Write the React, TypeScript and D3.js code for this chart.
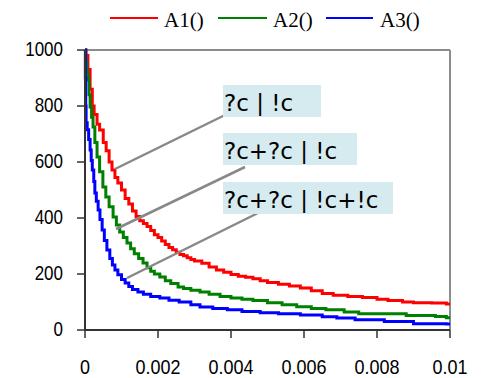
import React from "react";
import * as d3 from "d3";

const seriesNames = ["A1()", "A2()", "A3()"];
const seriesColors = ["#ff0000", "#008000", "#0000ff"];

const a1T = [0, 0.00003, 0.00008, 0.00014, 0.0002, 0.00025, 0.00033, 0.0004, 0.0005, 0.00058, 0.00066, 0.00074, 0.00082, 0.0009, 0.001, 0.0011, 0.0012, 0.0013, 0.0014, 0.0015, 0.0016, 0.0017, 0.0018, 0.0019, 0.002, 0.0021, 0.0022, 0.0023, 0.0024, 0.0025, 0.0026, 0.0027, 0.0028, 0.0029, 0.003, 0.0032, 0.0034, 0.0036, 0.0038, 0.004, 0.0042, 0.0044, 0.0046, 0.0048, 0.005, 0.0053, 0.0056, 0.0059, 0.0062, 0.0065, 0.0068, 0.0072, 0.0076, 0.008, 0.0083, 0.0087, 0.009, 0.0095, 0.0099, 0.01];
const a1V = [1000, 980, 930, 860, 800, 770, 735, 714, 670, 640, 600, 571, 545, 525, 500, 470, 450, 425, 405, 390, 380, 370, 355, 340, 330, 318, 305, 295, 287, 278, 270, 265, 258, 252, 246, 238, 225, 214, 206, 198, 192, 188, 183, 176, 170, 163, 157, 150, 140, 130, 124, 120, 116, 110, 105, 100, 97, 96, 93, 93];

const a2T = [0, 0.00002, 0.00005, 0.00008, 0.00011, 0.00014, 0.00018, 0.00022, 0.00027, 0.00033, 0.0004, 0.00049, 0.00057, 0.00066, 0.00077, 0.00086, 0.00095, 0.00105, 0.00115, 0.00125, 0.00135, 0.00147, 0.00159, 0.0017, 0.0018, 0.0019, 0.00205, 0.0022, 0.00235, 0.00255, 0.0027, 0.0029, 0.00315, 0.0034, 0.0037, 0.004, 0.0043, 0.0046, 0.005, 0.0054, 0.0058, 0.0062, 0.0066, 0.0071, 0.0075, 0.0088, 0.0096, 0.0099, 0.01];
const a2V = [1000, 960, 920, 893, 840, 796, 760, 725, 670, 618, 565, 511, 475, 440, 404, 375, 350, 330, 311, 290, 272, 255, 239, 222, 210, 200, 189, 176, 166, 154, 148, 142, 136, 128, 120, 114, 110, 105, 97, 90, 83, 77, 72, 64, 58, 52, 48, 44, 44];

const a3T = [0, 0.00001, 0.00002, 0.00003, 0.00006, 0.0001, 0.00014, 0.00017, 0.0002, 0.00024, 0.00027, 0.00031, 0.00036, 0.00041, 0.00047, 0.00053, 0.0006, 0.00068, 0.00075, 0.00082, 0.0009, 0.001, 0.0011, 0.0012, 0.0013, 0.00145, 0.0016, 0.0018, 0.00205, 0.0023, 0.00258, 0.0029, 0.00315, 0.0035, 0.0039, 0.0043, 0.0048, 0.0053, 0.0059, 0.0065, 0.0069, 0.0074, 0.0082, 0.009, 0.0099, 0.01];
const a3V = [1000, 900, 800, 740, 715, 680, 643, 605, 571, 530, 489, 460, 429, 395, 357, 320, 286, 255, 232, 214, 197, 180, 168, 155, 145, 136, 128, 120, 114, 106, 100, 90, 82, 77, 72, 66, 62, 58, 54, 47, 43, 37, 30, 22, 21, 21];

const xTicks = [0, 0.002, 0.004, 0.006, 0.008, 0.01];
const xTickLabels = ["0", "0.002", "0.004", "0.006", "0.008", "0.01"];
const yTicks = [0, 200, 400, 600, 800, 1000];

const annotations = ["?c | !c", "?c+?c | !c", "?c+?c | !c+!c"];

export default function App() {
  const left = 85, right = 450, top = 50, bottom = 330;
  const x = d3.scaleLinear().domain([0, 0.01]).range([left, right]);
  const y = d3.scaleLinear().domain([0, 1000]).range([bottom, top]);
  const series = [
    a1T.map((t, i) => [t, a1V[i]] as [number, number]),
    a2T.map((t, i) => [t, a2V[i]] as [number, number]),
    a3T.map((t, i) => [t, a3V[i]] as [number, number]),
  ];
  const line = d3
    .line<[number, number]>()
    .x((d) => x(d[0]))
    .y((d) => y(d[1]))
    .curve(d3.curveStepAfter);

  const legendItems = [
    { x1: 110, x2: 158, tx: 164 },
    { x1: 218, x2: 267, tx: 273 },
    { x1: 326, x2: 373, tx: 380 },
  ];

  const boxes = [
    { bx: 223, by: 85, bw: 98, lx1: 115, ly1: 169, lx2: 225, ly2: 115 },
    { bx: 223, by: 133, bw: 134, lx1: 116, ly1: 229, lx2: 245, ly2: 167 },
    { bx: 223, by: 182, bw: 170, lx1: 127, ly1: 278, lx2: 262, ly2: 211 },
  ];

  return (
    <svg
      width={483}
      height={378}
      style={{ position: "absolute", left: 0, top: 0, background: "#fff" }}
    >
      <rect width={483} height={378} fill="#fff" />
      {/* frame */}
      <line x1={left} x2={right} y1={top} y2={top} stroke="#8c8c8c" strokeWidth={2} />
      <line x1={right} x2={right} y1={top} y2={bottom} stroke="#8c8c8c" strokeWidth={2} />

      {/* series */}
      {series.map((s, i) => (
        <path
          key={i}
          d={line(s) || ""}
          fill="none"
          stroke={seriesColors[i]}
          strokeWidth={3}
        />
      ))}

      {/* axes */}
      <line x1={left} x2={left} y1={top} y2={bottom} stroke="#333" strokeWidth={2} />
      <line x1={left} x2={right} y1={bottom} y2={bottom} stroke="#333" strokeWidth={2} />
      {yTicks.map((v) => (
        <g key={"y" + v}>
          <line x1={left - 8} x2={left} y1={y(v)} y2={y(v)} stroke="#333" strokeWidth={1.5} />
          <text
            transform={`translate(63,${y(v) + 6}) scale(1,1.2)`}
            textAnchor="end"
            fontFamily="Liberation Sans, Arial, sans-serif"
            fontSize={17}
            fill="#000"
          >
            {v}
          </text>
        </g>
      ))}
      {xTicks.map((v, i) => (
        <g key={"x" + i}>
          <line x1={x(v)} x2={x(v)} y1={bottom} y2={bottom + 8} stroke="#333" strokeWidth={1.5} />
          <text
            transform={`translate(${x(v)},374) scale(1,1.12)`}
            textAnchor="middle"
            fontFamily="Liberation Sans, Arial, sans-serif"
            fontSize={18}
            fill="#000"
          >
            {xTickLabels[i]}
          </text>
        </g>
      ))}

      {/* annotations */}
      {boxes.map((b, i) => (
        <g key={"a" + i}>
          <line x1={b.lx1} y1={b.ly1} x2={b.lx2} y2={b.ly2} stroke="#888" strokeWidth={2.5} />
          <rect x={b.bx} y={b.by} width={b.bw} height={32} fill="#d6ebef" />
          <text
            x={b.bx + 1}
            y={b.by + 26}
            fontFamily="DejaVu Sans, sans-serif"
            fontSize={23}
            fill="#000"
          >
            {annotations[i]}
          </text>
        </g>
      ))}

      {/* legend */}
      {legendItems.map((l, i) => (
        <g key={"l" + i}>
          <line x1={l.x1} x2={l.x2} y1={18} y2={18} stroke={seriesColors[i]} strokeWidth={2} />
          <text
            x={l.tx}
            y={27}
            fontFamily="Liberation Serif, Times New Roman, serif"
            fontSize={21}
            fill="#000"
          >
            {seriesNames[i]}
          </text>
        </g>
      ))}
    </svg>
  );
}
